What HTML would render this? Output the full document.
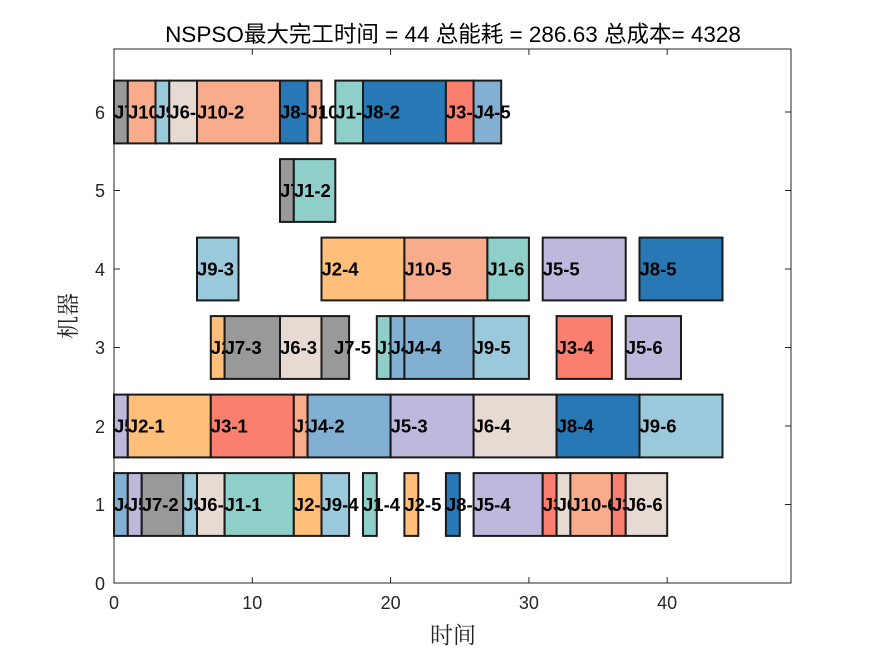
<!DOCTYPE html>
<html><head><meta charset="utf-8"><style>
html,body{margin:0;padding:0;background:#fff;}
svg{display:block;}
.b{stroke:#1a1a1a;stroke-width:2;}
.t{font-family:"Liberation Sans",Arial,sans-serif;font-weight:bold;font-size:18.5px;fill:#000;}
.k{font-family:"Liberation Sans",Arial,sans-serif;font-size:18px;fill:#262626;}
</style></head><body>
<svg width="875" height="656" viewBox="0 0 875 656" xmlns="http://www.w3.org/2000/svg">
<rect width="875" height="656" fill="#fff"/>
<text x="453" y="42" text-anchor="middle" style="font-family:'Liberation Sans','Noto Sans CJK SC',sans-serif;font-size:22.5px;fill:#000">NSPSO最大完工时间 = 44 总能耗 = 286.63 总成本= 4328</text>
<rect x="114" y="49" width="677" height="534" fill="#fff" stroke="#262626" stroke-width="1"/>
<g stroke="#262626" stroke-width="1">
<line x1="252.3" y1="583" x2="252.3" y2="577"/><line x1="390.6" y1="583" x2="390.6" y2="577"/><line x1="528.9" y1="583" x2="528.9" y2="577"/><line x1="667.2" y1="583" x2="667.2" y2="577"/>
<line x1="252.3" y1="49" x2="252.3" y2="55"/><line x1="390.6" y1="49" x2="390.6" y2="55"/><line x1="528.9" y1="49" x2="528.9" y2="55"/><line x1="667.2" y1="49" x2="667.2" y2="55"/>
<line x1="114" y1="504.5" x2="120" y2="504.5"/><line x1="114" y1="426" x2="120" y2="426"/><line x1="114" y1="347.5" x2="120" y2="347.5"/><line x1="114" y1="269" x2="120" y2="269"/><line x1="114" y1="190.5" x2="120" y2="190.5"/><line x1="114" y1="112" x2="120" y2="112"/>
<line x1="791" y1="504.5" x2="785" y2="504.5"/><line x1="791" y1="426" x2="785" y2="426"/><line x1="791" y1="347.5" x2="785" y2="347.5"/><line x1="791" y1="269" x2="785" y2="269"/><line x1="791" y1="190.5" x2="785" y2="190.5"/><line x1="791" y1="112" x2="785" y2="112"/>
</g>
<g class="k" text-anchor="middle">
<text x="114" y="609">0</text><text x="252.3" y="609">10</text><text x="390.6" y="609">20</text><text x="528.9" y="609">30</text><text x="667.2" y="609">40</text>
</g>
<g class="k" text-anchor="end">
<text x="105" y="590">0</text><text x="105" y="511">1</text><text x="105" y="433">2</text><text x="105" y="354">3</text><text x="105" y="276">4</text><text x="105" y="197">5</text><text x="105" y="119">6</text>
</g>
<text x="453" y="643" text-anchor="middle" style="font-family:'Noto Serif CJK SC','Liberation Serif',serif;font-size:23px;fill:#262626">时间</text>
<text transform="translate(76,316) rotate(-90)" text-anchor="middle" style="font-family:'Noto Serif CJK SC','Liberation Serif',serif;font-size:23px;fill:#262626">机器</text>

<rect class="b" x="114" y="80.6" width="13.8" height="62.8" fill="#999999"/><text class="t" x="114" y="118.5">J7-1</text>
<rect class="b" x="127.8" y="80.6" width="27.7" height="62.8" fill="#f8ac8c"/><text class="t" x="128" y="118.5">J10-1</text>
<rect class="b" x="155.5" y="80.6" width="13.8" height="62.8" fill="#9ac9db"/><text class="t" x="155.5" y="118.5">J9-1</text>
<rect class="b" x="169.3" y="80.6" width="27.7" height="62.8" fill="#e7dad2"/><text class="t" x="169.3" y="118.5">J6-1</text>
<rect class="b" x="197" y="80.6" width="83" height="62.8" fill="#f8ac8c"/><text class="t" x="197" y="118.5">J10-2</text>
<rect class="b" x="280" y="80.6" width="27.6" height="62.8" fill="#2878b5"/><text class="t" x="280" y="118.5">J8-1</text>
<rect class="b" x="307.6" y="80.6" width="13.9" height="62.8" fill="#f8ac8c"/><text class="t" x="307.6" y="118.5">J10-3</text>
<rect class="b" x="335.3" y="80.6" width="27.7" height="62.8" fill="#8ecfc9"/><text class="t" x="335.3" y="118.5">J1-3</text>
<rect class="b" x="363" y="80.6" width="82.9" height="62.8" fill="#2878b5"/><text class="t" x="363" y="118.5">J8-2</text>
<rect class="b" x="445.9" y="80.6" width="27.7" height="62.8" fill="#fa7f6f"/><text class="t" x="445.9" y="118.5">J3-3</text>
<rect class="b" x="473.6" y="80.6" width="27.6" height="62.8" fill="#82b0d2"/><text class="t" x="473.6" y="118.5">J4-5</text>

<rect class="b" x="280" y="159.1" width="13.8" height="62.8" fill="#999999"/><text class="t" x="280" y="197">J7-4</text>
<rect class="b" x="293.8" y="159.1" width="41.5" height="62.8" fill="#8ecfc9"/><text class="t" x="293.8" y="197">J1-2</text>

<rect class="b" x="197" y="237.6" width="41.5" height="62.8" fill="#9ac9db"/><text class="t" x="197" y="275.5">J9-3</text>
<rect class="b" x="321.5" y="237.6" width="82.9" height="62.8" fill="#ffbe7a"/><text class="t" x="321.5" y="275.5">J2-4</text>
<rect class="b" x="404.4" y="237.6" width="83" height="62.8" fill="#f8ac8c"/><text class="t" x="404.4" y="275.5">J10-5</text>
<rect class="b" x="487.4" y="237.6" width="41.5" height="62.8" fill="#8ecfc9"/><text class="t" x="487.4" y="275.5">J1-6</text>
<rect class="b" x="542.7" y="237.6" width="83" height="62.8" fill="#beb8dc"/><text class="t" x="542.7" y="275.5">J5-5</text>
<rect class="b" x="639.5" y="237.6" width="83" height="62.8" fill="#2878b5"/><text class="t" x="639.5" y="275.5">J8-5</text>

<rect class="b" x="210.8" y="316.1" width="13.8" height="62.8" fill="#ffbe7a"/><text class="t" x="210.8" y="354">J2-3</text>
<rect class="b" x="224.6" y="316.1" width="55.4" height="62.8" fill="#999999"/><text class="t" x="224.6" y="354">J7-3</text>
<rect class="b" x="280" y="316.1" width="41.5" height="62.8" fill="#e7dad2"/><text class="t" x="280" y="354">J6-3</text>
<rect class="b" x="321.5" y="316.1" width="27.6" height="62.8" fill="#999999"/><text class="t" x="334" y="354">J7-5</text>
<rect class="b" x="376.8" y="316.1" width="13.8" height="62.8" fill="#8ecfc9"/><text class="t" x="376.8" y="354">J1-5</text>
<rect class="b" x="390.6" y="316.1" width="13.8" height="62.8" fill="#82b0d2"/><text class="t" x="390.6" y="354">J4-3</text>
<rect class="b" x="404.4" y="316.1" width="69.2" height="62.8" fill="#82b0d2"/><text class="t" x="404.4" y="354">J4-4</text>
<rect class="b" x="473.6" y="316.1" width="55.3" height="62.8" fill="#9ac9db"/><text class="t" x="473.6" y="354">J9-5</text>
<rect class="b" x="556.6" y="316.1" width="55.3" height="62.8" fill="#fa7f6f"/><text class="t" x="556.6" y="354">J3-4</text>
<rect class="b" x="625.7" y="316.1" width="55.3" height="62.8" fill="#beb8dc"/><text class="t" x="625.7" y="354">J5-6</text>

<rect class="b" x="114" y="394.6" width="13.8" height="62.8" fill="#beb8dc"/><text class="t" x="114" y="432.5">J5-2</text>
<rect class="b" x="127.8" y="394.6" width="83" height="62.8" fill="#ffbe7a"/><text class="t" x="127.8" y="432.5">J2-1</text>
<rect class="b" x="210.8" y="394.6" width="83" height="62.8" fill="#fa7f6f"/><text class="t" x="210.8" y="432.5">J3-1</text>
<rect class="b" x="293.8" y="394.6" width="13.8" height="62.8" fill="#f8ac8c"/><text class="t" x="293.8" y="432.5">J10-4</text>
<rect class="b" x="307.6" y="394.6" width="83" height="62.8" fill="#82b0d2"/><text class="t" x="307.6" y="432.5">J4-2</text>
<rect class="b" x="390.6" y="394.6" width="83" height="62.8" fill="#beb8dc"/><text class="t" x="390.6" y="432.5">J5-3</text>
<rect class="b" x="473.6" y="394.6" width="83" height="62.8" fill="#e7dad2"/><text class="t" x="473.6" y="432.5">J6-4</text>
<rect class="b" x="556.6" y="394.6" width="82.9" height="62.8" fill="#2878b5"/><text class="t" x="556.6" y="432.5">J8-4</text>
<rect class="b" x="639.5" y="394.6" width="83" height="62.8" fill="#9ac9db"/><text class="t" x="639.5" y="432.5">J9-6</text>

<rect class="b" x="114" y="473.1" width="13.8" height="62.8" fill="#82b0d2"/><text class="t" x="114" y="511">J4-1</text>
<rect class="b" x="127.8" y="473.1" width="13.9" height="62.8" fill="#beb8dc"/><text class="t" x="127.8" y="511">J5-1</text>
<rect class="b" x="141.7" y="473.1" width="41.5" height="62.8" fill="#999999"/><text class="t" x="141.7" y="511">J7-2</text>
<rect class="b" x="183.2" y="473.1" width="13.8" height="62.8" fill="#9ac9db"/><text class="t" x="183.2" y="511">J9-2</text>
<rect class="b" x="197" y="473.1" width="27.6" height="62.8" fill="#e7dad2"/><text class="t" x="197" y="511">J6-2</text>
<rect class="b" x="224.6" y="473.1" width="69.2" height="62.8" fill="#8ecfc9"/><text class="t" x="224.6" y="511">J1-1</text>
<rect class="b" x="293.8" y="473.1" width="27.7" height="62.8" fill="#ffbe7a"/><text class="t" x="293.8" y="511">J2-2</text>
<rect class="b" x="321.5" y="473.1" width="27.6" height="62.8" fill="#9ac9db"/><text class="t" x="321.5" y="511">J9-4</text>
<rect class="b" x="363" y="473.1" width="13.8" height="62.8" fill="#8ecfc9"/><text class="t" x="363" y="511">J1-4</text>
<rect class="b" x="404.4" y="473.1" width="13.9" height="62.8" fill="#ffbe7a"/><text class="t" x="404.4" y="511">J2-5</text>
<rect class="b" x="445.9" y="473.1" width="13.9" height="62.8" fill="#2878b5"/><text class="t" x="445.9" y="511">J8-3</text>
<rect class="b" x="473.6" y="473.1" width="69.1" height="62.8" fill="#beb8dc"/><text class="t" x="473.6" y="511">J5-4</text>
<rect class="b" x="542.7" y="473.1" width="13.9" height="62.8" fill="#fa7f6f"/><text class="t" x="542.7" y="511">J3-2</text>
<rect class="b" x="556.6" y="473.1" width="13.8" height="62.8" fill="#e7dad2"/><text class="t" x="556.6" y="511">J6-5</text>
<rect class="b" x="570.4" y="473.1" width="41.5" height="62.8" fill="#f8ac8c"/><text class="t" x="570.4" y="511">J10-6</text>
<rect class="b" x="611.9" y="473.1" width="13.8" height="62.8" fill="#fa7f6f"/><text class="t" x="611.9" y="511">J3-5</text>
<rect class="b" x="625.7" y="473.1" width="41.5" height="62.8" fill="#e7dad2"/><text class="t" x="625.7" y="511">J6-6</text>
</svg>
</body></html>
